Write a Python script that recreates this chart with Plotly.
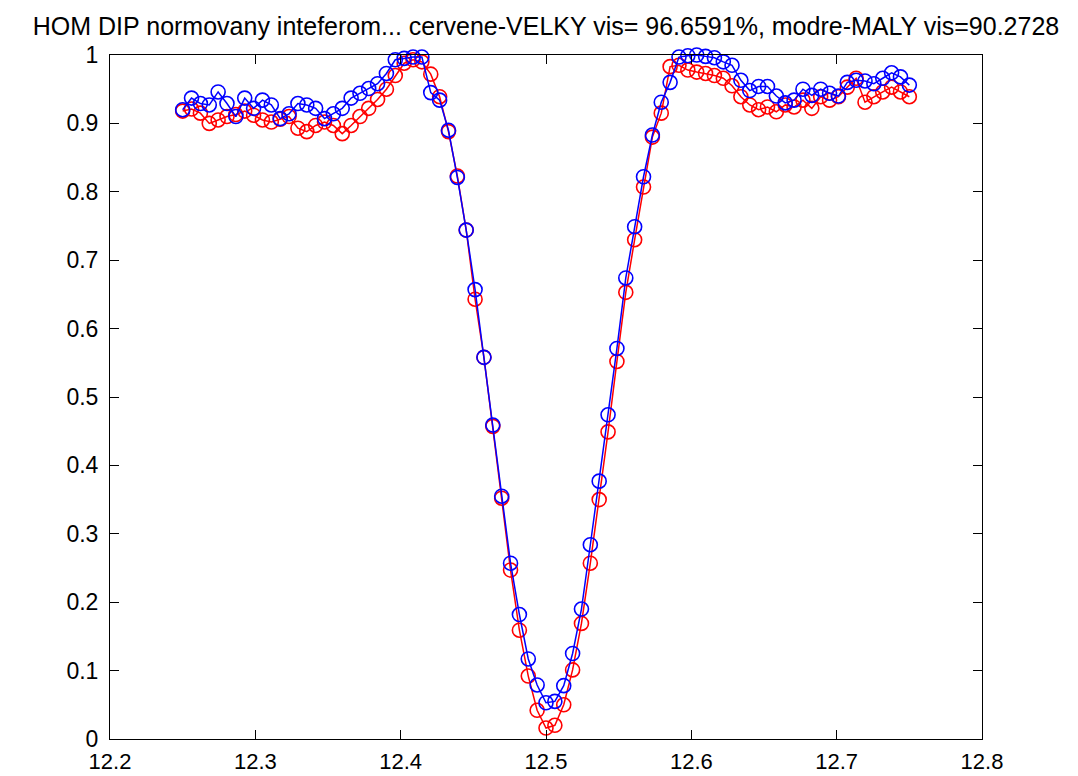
import plotly.graph_objects as go

position = [
    12.2500, 12.2561, 12.2622, 12.2683, 12.2744, 12.2805, 12.2866, 12.2927, 12.2988, 12.3049,
    12.3110, 12.3171, 12.3232, 12.3293, 12.3354, 12.3415, 12.3476, 12.3537, 12.3598, 12.3659,
    12.3720, 12.3780, 12.3841, 12.3902, 12.3963, 12.4024, 12.4085, 12.4146, 12.4207, 12.4268,
    12.4329, 12.4390, 12.4451, 12.4512, 12.4573, 12.4634, 12.4695, 12.4756, 12.4817, 12.4878,
    12.4939, 12.5000, 12.5061, 12.5122, 12.5183, 12.5244, 12.5305, 12.5366, 12.5427, 12.5488,
    12.5549, 12.5610, 12.5671, 12.5732, 12.5793, 12.5854, 12.5915, 12.5976, 12.6037, 12.6098,
    12.6159, 12.6220, 12.6280, 12.6341, 12.6402, 12.6463, 12.6524, 12.6585, 12.6646, 12.6707,
    12.6768, 12.6829, 12.6890, 12.6951, 12.7012, 12.7073, 12.7134, 12.7195, 12.7256, 12.7317,
    12.7378, 12.7439, 12.7500,
]

velky_red = [
    0.918, 0.921, 0.915, 0.900, 0.905, 0.910, 0.913, 0.918, 0.912, 0.905,
    0.902, 0.906, 0.910, 0.893, 0.888, 0.897, 0.902, 0.897, 0.885, 0.897,
    0.910, 0.922, 0.935, 0.950, 0.970, 0.988, 0.993, 0.990, 0.972, 0.939,
    0.888, 0.823, 0.744, 0.643, 0.558, 0.457, 0.352, 0.247, 0.159, 0.092,
    0.042, 0.016, 0.020, 0.050, 0.101, 0.169, 0.257, 0.350, 0.449, 0.552,
    0.653, 0.730, 0.807, 0.880, 0.915, 0.983, 0.985, 0.978, 0.975, 0.973,
    0.970, 0.966, 0.955, 0.939, 0.927, 0.920, 0.924, 0.917, 0.927, 0.924,
    0.934, 0.922, 0.939, 0.934, 0.939, 0.953, 0.966, 0.931, 0.939, 0.946,
    0.953, 0.946, 0.939,
]

maly_blue = [
    0.920, 0.937, 0.929, 0.927, 0.946, 0.929, 0.910, 0.937, 0.922, 0.934,
    0.927, 0.907, 0.914, 0.929, 0.927, 0.922, 0.907, 0.914, 0.922, 0.937,
    0.944, 0.951, 0.958, 0.973, 0.993, 0.995, 0.997, 0.997, 0.945, 0.934,
    0.890, 0.821, 0.744, 0.657, 0.558, 0.459, 0.355, 0.257, 0.182, 0.117,
    0.079, 0.053, 0.055, 0.078, 0.125, 0.190, 0.284, 0.377, 0.474, 0.571,
    0.674, 0.749, 0.822, 0.883, 0.931, 0.960, 0.997, 0.999, 1.000, 0.998,
    0.996, 0.990, 0.985, 0.963, 0.948, 0.954, 0.954, 0.940, 0.930, 0.934,
    0.950, 0.941, 0.950, 0.944, 0.940, 0.960, 0.963, 0.962, 0.958, 0.966,
    0.974, 0.968, 0.956,
]

title_text = "HOM DIP normovany inteferom... cervene-VELKY vis= 96.6591%, modre-MALY vis=90.2728"
x_ticks = [12.2, 12.3, 12.4, 12.5, 12.6, 12.7, 12.8]
y_ticks = [0, 0.1, 0.2, 0.3, 0.4, 0.5, 0.6, 0.7, 0.8, 0.9, 1]

FONT = "Liberation Sans, Arial, sans-serif"

fig = go.Figure()
for vals, col in [(velky_red, "#ff0000"), (maly_blue, "#0000ff")]:
    fig.add_trace(go.Scatter(
        x=position, y=vals, mode="lines+markers",
        line=dict(color=col, width=1.5),
        marker=dict(symbol="circle-open", size=14, color=col, line=dict(color=col, width=1.6)),
        cliponaxis=False, showlegend=False,
    ))

axis_common = dict(
    showline=True, linecolor="black", linewidth=1, mirror="ticks",
    ticks="inside", ticklen=9, tickwidth=1, tickcolor="black",
    showgrid=False, zeroline=False, automargin=False,
)

fig.update_xaxes(range=[12.2, 12.8], tickvals=x_ticks, ticktext=[f"{v:g}" for v in x_ticks],
                 ticklabelstandoff=3, tickfont=dict(family=FONT, size=22, color="black"),
                 **axis_common)
fig.update_yaxes(range=[0, 1], tickvals=y_ticks, ticktext=[f"{v:g}" for v in y_ticks],
                 ticklabelstandoff=6, tickfont=dict(family=FONT, size=23, color="black"),
                 **axis_common)

fig.update_layout(
    width=1078, height=776,
    margin=dict(l=110, r=96, t=55, b=37),
    paper_bgcolor="white", plot_bgcolor="white",
    title=dict(text=title_text, x=0.5, xref="paper", xanchor="center",
               y=1 - 26 / 776, yref="container", yanchor="middle",
               font=dict(family=FONT, size=25, color="black")),
)

fig.write_html("out.html")
